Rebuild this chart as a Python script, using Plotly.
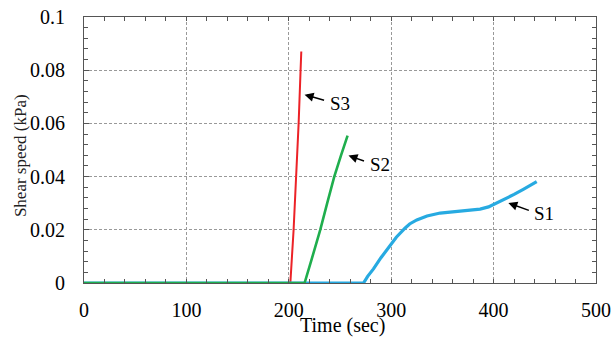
import plotly.graph_objects as go

# Data
s1_t = [0, 273, 277, 282.7, 290, 299, 305, 313.7, 318, 325, 335, 347.8, 360, 370.5, 380, 386.8, 395, 399.8, 406, 412.9, 420, 429, 435, 442.1]
s1_v = [0, 0, 0.0025, 0.0053, 0.0095, 0.014, 0.0172, 0.0207, 0.0222, 0.0237, 0.0252, 0.0263, 0.0268, 0.0271, 0.0274, 0.0278, 0.0286, 0.0295, 0.0305, 0.0318, 0.0333, 0.0352, 0.0366, 0.0381]
s2_t = [0, 215.4, 222, 230.7, 237.5, 244.4, 251, 257.4]
s2_v = [0, 0, 0.0085, 0.02, 0.030, 0.04, 0.048, 0.0554]
s3_t = [0, 201.5, 204.7, 207.3, 209.6, 211.5, 212.2]
s3_v = [0, 0, 0.02, 0.04, 0.06, 0.08, 0.087]

labels = ["S1", "S2", "S3"]
label_t = [414.4, 258.3, 215.4]
label_v = [0.0301, 0.0479, 0.0708]

x_ticks = [0, 100, 200, 300, 400, 500]
y_ticks = [0, 0.02, 0.04, 0.06, 0.08, 0.1]
y_ticktext = ["0", "0.02", "0.04", "0.06", "0.08", "0.1"]

FONT = "Liberation Serif"

fig = go.Figure()
fig.add_trace(go.Scatter(x=s3_t, y=s3_v, mode="lines", line=dict(color="#ec2227", width=2), name="S3"))
fig.add_trace(go.Scatter(x=s1_t, y=s1_v, mode="lines", line=dict(color="#27aae1", width=3.2), name="S1"))
fig.add_trace(go.Scatter(x=s2_t, y=s2_v, mode="lines", line=dict(color="#1fae4d", width=2.6), name="S2"))

offsets = [(22, 8), (17, 6), (21, 6)]
for lab, t, v, (dx, dy) in zip(labels, label_t, label_v, offsets):
    fig.add_annotation(x=t, y=v, ax=dx, ay=dy, text="", showarrow=True,
                       arrowhead=2, arrowsize=1.2, arrowwidth=1.5, arrowcolor="black")
    fig.add_annotation(x=t, y=v, xshift=dx + 2, yshift=-dy - 3, text=lab, showarrow=False,
                       xanchor="left", yanchor="middle",
                       font=dict(family=FONT, size=19, color="black"))

# Axis titles
fig.add_annotation(xref="paper", yref="paper", x=0.504, y=-0.160, text="Time (sec)", showarrow=False,
                   xanchor="center", yanchor="middle", font=dict(family=FONT, size=20, color="black"))
fig.add_annotation(xref="paper", yref="paper", x=-0.124, y=0.479, text="Shear speed (kPa)", showarrow=False,
                   textangle=-90, xanchor="center", yanchor="middle", font=dict(family=FONT, size=17, color="#222"))

fig.update_layout(
    width=612, height=337,
    margin=dict(l=83.5, r=16, t=17, b=53.5),
    paper_bgcolor="white", plot_bgcolor="white",
    showlegend=False,
    font=dict(family=FONT, size=20, color="black"),
)
fig.update_xaxes(
    range=[0, 500], tickvals=x_ticks, ticks="inside", ticklen=4, tickcolor="#555",
    showline=True, linecolor="#555", linewidth=1, mirror="allticks",
    showgrid=True, gridcolor="#999", gridwidth=1, griddash="3px,2px",
    zeroline=False, ticklabelstandoff=9, automargin=False,
    minor=dict(dtick=20, ticks="inside", ticklen=4, tickcolor="#555", showgrid=False),
    tickfont=dict(family=FONT, size=20),
)
fig.update_yaxes(
    range=[0, 0.1], tickvals=y_ticks, ticktext=y_ticktext, ticks="inside", ticklen=5, tickcolor="#555",
    showline=True, linecolor="#555", linewidth=1, mirror="allticks",
    showgrid=True, gridcolor="#999", gridwidth=1, griddash="3px,2px",
    zeroline=False, ticklabelstandoff=14, automargin=False,
    minor=dict(dtick=0.004, ticks="inside", ticklen=4, tickcolor="#555", showgrid=False),
    tickfont=dict(family=FONT, size=20),
)

fig.write_html("out.html", config={"displayModeBar": False},
               post_script="document.body.style.margin='0';")
